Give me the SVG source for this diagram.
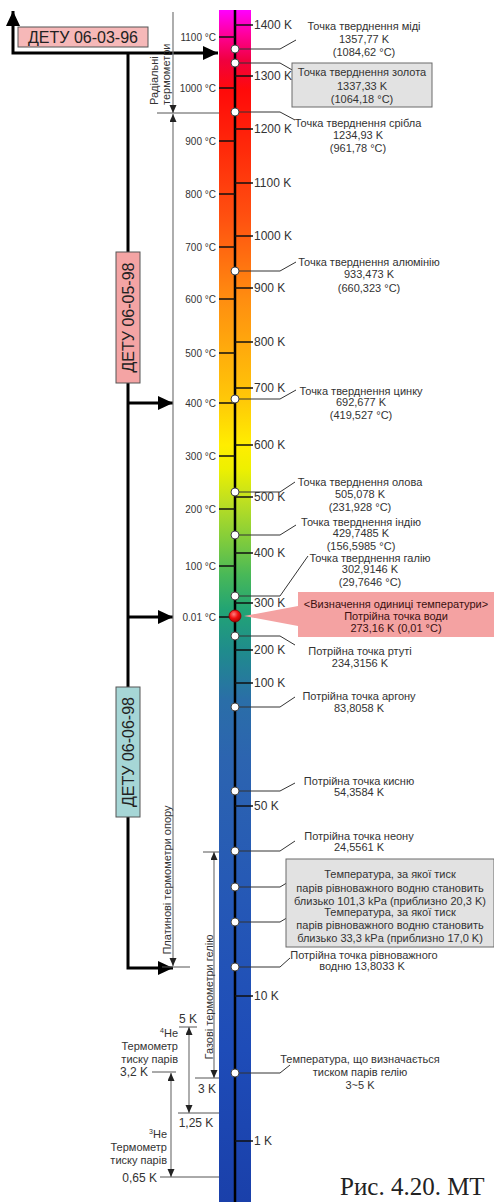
<svg xmlns="http://www.w3.org/2000/svg" width="494" height="1202" viewBox="0 0 494 1202">
<style>
text{font-family:"Liberation Sans",Arial,sans-serif;fill:#333}
.lbl{font-size:11px;text-anchor:middle}
.cl{font-size:10px;text-anchor:end}
.kl{font-size:12px}
.sm{font-size:11px;text-anchor:end}
.kv{font-size:12px}
.rt{font-size:11px}
.box{font-size:16px;fill:#222;text-anchor:middle}
.tick{stroke:#111;stroke-width:1.5}
.leader{stroke:#333;stroke-width:1;fill:none}
.pt{fill:#fff;stroke:#444;stroke-width:1}
.dim{stroke:#777;stroke-width:1.2;fill:none}
.dima{stroke:#777;stroke-width:1.2;fill:none;marker-start:url(#sa);marker-end:url(#sa)}
.dimh{stroke:#555;stroke-width:1}
.blk{stroke:#000;stroke-width:3;fill:none}
</style>
<defs>
<linearGradient id="spec" x1="0" y1="10" x2="0" y2="1202" gradientUnits="userSpaceOnUse">
<stop offset="0" stop-color="#ff00ff"/>
<stop offset="0.021" stop-color="#ff0098"/>
<stop offset="0.042" stop-color="#f00040"/>
<stop offset="0.067" stop-color="#ff0a0a"/>
<stop offset="0.117" stop-color="#ff2a0a"/>
<stop offset="0.176" stop-color="#ff5210"/>
<stop offset="0.243" stop-color="#ff8e10"/>
<stop offset="0.327" stop-color="#ffc808"/>
<stop offset="0.365" stop-color="#ffee00"/>
<stop offset="0.385" stop-color="#eef000"/>
<stop offset="0.411" stop-color="#c0e020"/>
<stop offset="0.445" stop-color="#80cc3c"/>
<stop offset="0.474" stop-color="#48b858"/>
<stop offset="0.503" stop-color="#22a474"/>
<stop offset="0.537" stop-color="#1f8c8c"/>
<stop offset="0.579" stop-color="#2a6ea8"/>
<stop offset="0.629" stop-color="#2c64b0"/>
<stop offset="0.747" stop-color="#2558b6"/>
<stop offset="0.872" stop-color="#1e4cb8"/>
<stop offset="1" stop-color="#1a40aa"/>
</linearGradient>
<radialGradient id="redball" cx="0.4" cy="0.35" r="0.7">
<stop offset="0" stop-color="#ff8080"/>
<stop offset="0.5" stop-color="#f01010"/>
<stop offset="1" stop-color="#a00000"/>
</radialGradient>
<marker id="ah" markerUnits="userSpaceOnUse" markerWidth="16" markerHeight="14" refX="15" refY="7" orient="auto-start-reverse">
<path d="M0,0 L15,7 L0,14 Z" fill="#000"/>
</marker>
<marker id="sa" markerUnits="userSpaceOnUse" markerWidth="9" markerHeight="8" refX="8" refY="3.5" orient="auto-start-reverse">
<path d="M0,0 L8,3.5 L0,7 Z" fill="#222"/>
</marker>
</defs>

<g id="scale">
<rect x="219" y="10" width="32" height="1192" fill="url(#spec)"/>
<line x1="235" y1="10" x2="235" y2="1202" stroke="#000" stroke-width="2.5"/>
<g id="celsius-ticks">
<line class="tick" x1="219" y1="37" x2="235" y2="37"/><text class="cl" x="216" y="40.5">1100 °C</text>
<line class="tick" x1="219" y1="88" x2="235" y2="88"/><text class="cl" x="216" y="91.5">1000 °C</text>
<line class="tick" x1="219" y1="141" x2="235" y2="141"/><text class="cl" x="216" y="144.5">900 °C</text>
<line class="tick" x1="219" y1="194" x2="235" y2="194"/><text class="cl" x="216" y="197.5">800 °C</text>
<line class="tick" x1="219" y1="247" x2="235" y2="247"/><text class="cl" x="216" y="250.5">700 °C</text>
<line class="tick" x1="219" y1="299" x2="235" y2="299"/><text class="cl" x="216" y="302.5">600 °C</text>
<line class="tick" x1="219" y1="353" x2="235" y2="353"/><text class="cl" x="216" y="356.5">500 °C</text>
<line class="tick" x1="219" y1="403" x2="235" y2="403"/><text class="cl" x="216" y="406.5">400 °C</text>
<line class="tick" x1="219" y1="456" x2="235" y2="456"/><text class="cl" x="216" y="459.5">300 °C</text>
<line class="tick" x1="219" y1="509" x2="235" y2="509"/><text class="cl" x="216" y="512.5">200 °C</text>
<line class="tick" x1="219" y1="566" x2="235" y2="566"/><text class="cl" x="216" y="569.5">100 °C</text>
<line class="tick" x1="219" y1="617" x2="235" y2="617"/><text class="cl" x="216" y="620.5">0.01 °C</text>
</g>
<g id="kelvin-ticks">
<line class="tick" x1="235" y1="25" x2="253" y2="25"/><text class="kl" x="254" y="29">1400 K</text>
<line class="tick" x1="235" y1="76" x2="253" y2="76"/><text class="kl" x="254" y="80">1300 K</text>
<line class="tick" x1="235" y1="129" x2="253" y2="129"/><text class="kl" x="254" y="133">1200 K</text>
<line class="tick" x1="235" y1="183" x2="253" y2="183"/><text class="kl" x="254" y="187">1100 K</text>
<line class="tick" x1="235" y1="236" x2="253" y2="236"/><text class="kl" x="254" y="240">1000 K</text>
<line class="tick" x1="235" y1="288" x2="253" y2="288"/><text class="kl" x="254" y="292">900 K</text>
<line class="tick" x1="235" y1="342" x2="253" y2="342"/><text class="kl" x="254" y="346">800 K</text>
<line class="tick" x1="235" y1="388" x2="253" y2="388"/><text class="kl" x="254" y="392">700 K</text>
<line class="tick" x1="235" y1="445" x2="253" y2="445"/><text class="kl" x="254" y="449">600 K</text>
<line class="tick" x1="235" y1="497" x2="253" y2="497"/><text class="kl" x="254" y="501">500 K</text>
<line class="tick" x1="235" y1="553" x2="253" y2="553"/><text class="kl" x="254" y="557">400 K</text>
<line class="tick" x1="235" y1="603" x2="253" y2="603"/><text class="kl" x="254" y="607">300 K</text>
<line class="tick" x1="235" y1="650" x2="253" y2="650"/><text class="kl" x="254" y="654">200 K</text>
<line class="tick" x1="235" y1="683" x2="253" y2="683"/><text class="kl" x="254" y="687">100 K</text>
<line class="tick" x1="235" y1="806" x2="253" y2="806"/><text class="kl" x="254" y="810">50 K</text>
<line class="tick" x1="235" y1="996" x2="253" y2="996"/><text class="kl" x="254" y="1000">10 K</text>
<line class="tick" x1="235" y1="1141" x2="253" y2="1141"/><text class="kl" x="254" y="1145">1 K</text>
</g>
</g>

<g id="connectors">
<path class="leader" d="M235,49 L280,49 L296,40"/>
<path class="leader" d="M235,63 L280,63 L294,71"/>
<path class="leader" d="M235,112 L280,112 L295,120"/>
<path class="leader" d="M235,271 L280,271 L296,262"/>
<path class="leader" d="M235,399 L280,399 L296,390"/>
<path class="leader" d="M235,492 L280,492 L295,482"/>
<path class="leader" d="M235,535 L280,535 L296,525"/>
<path class="leader" d="M235,596 L280,596 L308,556"/>
<path class="leader" d="M235,636 L280,636 L295,645"/>
<path class="leader" d="M235,707 L280,707 L295,697"/>
<path class="leader" d="M235,791 L280,791 L295,783"/>
<path class="leader" d="M235,851 L280,851 L295,841"/>
<path class="leader" d="M235,887 L280,887 L295,878"/>
<path class="leader" d="M235,922 L280,922 L295,913"/>
<path class="leader" d="M235,967 L280,967 L290,958"/>
<path class="leader" d="M235,1073 L280,1073 L290,1065"/>

<path class="blk" d="M13,11 L13,53 L218,53" marker-start="url(#ah)" marker-end="url(#ah)"/>
<path class="blk" d="M128,53 L128,252"/>
<path class="blk" d="M128,383 L128,687"/>
<path class="blk" d="M128,403 L173,403" marker-end="url(#ah)"/>
<path class="blk" d="M128,617 L173,617" marker-end="url(#ah)"/>
<path class="blk" d="M128,817 L128,968 L173,968" marker-end="url(#ah)"/>

<path class="dim" d="M173,12 L173,113" marker-end="url(#sa)"/>
<line class="dimh" x1="157" y1="113" x2="219" y2="113"/>
<path class="dima" d="M173,114 L173,966"/>
<line class="dimh" x1="162" y1="967" x2="190" y2="967"/>
<path class="dima" d="M214,852 L214,1078"/>
<line class="dimh" x1="203" y1="852" x2="219" y2="852"/>
<line class="dimh" x1="195" y1="1078" x2="219" y2="1078"/>
<path class="dima" d="M189,1027 L189,1113"/>
<line class="dimh" x1="179" y1="1027" x2="197" y2="1027"/>
<line class="dimh" x1="178" y1="1113" x2="219" y2="1113"/>
<path class="dima" d="M171,1073 L171,1177"/>
<line class="dimh" x1="152" y1="1072" x2="176" y2="1072"/>
<line class="dimh" x1="160" y1="1177" x2="219" y2="1177"/>
</g>

<g id="range-labels">
<text class="rt" transform="translate(158,105) rotate(-90)">Радіальні</text>
<text class="rt" transform="translate(170,105) rotate(-90)">термометри</text>
<text class="rt" text-anchor="middle" transform="translate(171,880) rotate(-90)">Платинові термометри опору</text>
<text class="rt" text-anchor="middle" transform="translate(213,997) rotate(-90)">Газові термометри гелію</text>
<text class="kv" x="188" y="1023" text-anchor="middle">5 K</text>
<text class="kv" x="207" y="1093" text-anchor="middle">3 K</text>
<text class="kv" x="196" y="1127" text-anchor="middle">1,25 K</text>
<text class="sm" x="178" y="1037"><tspan font-size="7" dy="-4">4</tspan><tspan dy="4">He</tspan></text>
<text class="sm" x="178" y="1050">Термометр</text>
<text class="sm" x="178" y="1063">тиску парів</text>
<text class="kv" x="148" y="1076" text-anchor="end">3,2 K</text>
<text class="sm" x="167" y="1138"><tspan font-size="7" dy="-4">3</tspan><tspan dy="4">He</tspan></text>
<text class="sm" x="167" y="1151">Термометр</text>
<text class="sm" x="167" y="1164">тиску парів</text>
<text class="kv" x="157" y="1182" text-anchor="end">0,65 K</text>
</g>

<g id="detu-06-03-96">
<rect x="18" y="27" width="130" height="20" fill="#f6b8b8" stroke="#555" stroke-width="1"/>
<text class="box" x="83" y="43">ДЕТУ 06-03-96</text>
</g>
<g id="detu-06-05-98">
<rect x="116" y="252" width="24" height="131" fill="#f4a4a4" stroke="#555" stroke-width="1"/>
<text class="box" transform="translate(134,317.5) rotate(-90)">ДЕТУ 06-05-98</text>
</g>
<g id="detu-06-06-98">
<rect x="116" y="687" width="24" height="130" fill="#a6d6d6" stroke="#555" stroke-width="1"/>
<text class="box" transform="translate(134,752) rotate(-90)">ДЕТУ 06-06-98</text>
</g>

<g id="copper">
<circle class="pt" cx="235" cy="49" r="4"/>
<text class="lbl" x="364" y="30">Точка тверднення міді</text>
<text class="lbl" x="364" y="43">1357,77 K</text>
<text class="lbl" x="364" y="56">(1084,62 °C)</text>
</g>
<g id="gold">
<circle class="pt" cx="235" cy="63" r="4"/>
<rect x="292" y="63" width="140" height="44" fill="#e2e2e2" stroke="#6a6a6a" stroke-width="1"/>
<text class="lbl" x="362" y="76">Точка тверднення золота</text>
<text class="lbl" x="362" y="90">1337,33 K</text>
<text class="lbl" x="362" y="103">(1064,18 °C)</text>
</g>
<g id="silver">
<circle class="pt" cx="235" cy="112" r="4"/>
<text class="lbl" x="358" y="127">Точка тверднення срібла</text>
<text class="lbl" x="358" y="139">1234,93 K</text>
<text class="lbl" x="358" y="152">(961,78 °C)</text>
</g>
<g id="aluminium">
<circle class="pt" cx="235" cy="271" r="4"/>
<text class="lbl" x="369" y="266">Точка тверднення алюмінію</text>
<text class="lbl" x="369" y="278">933,473 K</text>
<text class="lbl" x="369" y="292">(660,323 °C)</text>
</g>
<g id="zinc">
<circle class="pt" cx="235" cy="399" r="4"/>
<text class="lbl" x="361" y="395">Точка тверднення цинку</text>
<text class="lbl" x="361" y="406">692,677 K</text>
<text class="lbl" x="361" y="419">(419,527 °C)</text>
</g>
<g id="tin">
<circle class="pt" cx="235" cy="492" r="4"/>
<text class="lbl" x="360" y="486">Точка тверднення олова</text>
<text class="lbl" x="360" y="498">505,078 K</text>
<text class="lbl" x="360" y="511">(231,928 °C)</text>
</g>
<g id="indium">
<circle class="pt" cx="235" cy="535" r="4"/>
<text class="lbl" x="361" y="526">Точка тверднення індію</text>
<text class="lbl" x="361" y="537">429,7485 K</text>
<text class="lbl" x="361" y="550">(156,5985 °C)</text>
</g>
<g id="gallium">
<circle class="pt" cx="235" cy="596" r="4"/>
<text class="lbl" x="370" y="562">Точка тверднення галію</text>
<text class="lbl" x="370" y="573">302,9146 K</text>
<text class="lbl" x="370" y="586">(29,7646 °C)</text>
</g>
<g id="water">
<path d="M298,592 H494 V637 H298 V626 L244,616 L298,606 Z" fill="#f4a2a2"/>
<circle cx="235" cy="616" r="6" fill="url(#redball)" stroke="#800" stroke-width="0.8"/>
<text class="lbl" x="396" y="608" style="fill:#3a1010">&lt;Визначення одиниці температури&gt;</text>
<text class="lbl" x="396" y="620" style="fill:#3a1010">Потрійна точка води</text>
<text class="lbl" x="396" y="632" style="fill:#3a1010">273,16 K (0,01 °C)</text>
</g>
<g id="mercury">
<circle class="pt" cx="235" cy="636" r="4"/>
<text class="lbl" x="360" y="655">Потрійна точка ртуті</text>
<text class="lbl" x="360" y="667">234,3156 K</text>
</g>
<g id="argon">
<circle class="pt" cx="235" cy="707" r="4"/>
<text class="lbl" x="359" y="700">Потрійна точка аргону</text>
<text class="lbl" x="359" y="712">83,8058 K</text>
</g>
<g id="oxygen">
<circle class="pt" cx="235" cy="791" r="4"/>
<text class="lbl" x="359" y="785">Потрійна точка кисню</text>
<text class="lbl" x="359" y="796">54,3584 K</text>
</g>
<g id="neon">
<circle class="pt" cx="235" cy="851" r="4"/>
<text class="lbl" x="359" y="840">Потрійна точка неону</text>
<text class="lbl" x="359" y="851">24,5561 K</text>
</g>
<g id="hydrogen-vapour">
<circle class="pt" cx="235" cy="887" r="4"/>
<circle class="pt" cx="235" cy="922" r="4"/>
<rect x="286" y="859" width="208" height="88" fill="#e2e2e2" stroke="#6a6a6a" stroke-width="1"/>
<text class="lbl" x="390" y="878">Температура, за якої тиск</text>
<text class="lbl" x="390" y="892">парів рівноважного водню становить</text>
<text class="lbl" x="390" y="905">близько 101,3 kPa (приблизно 20,3 K)</text>
<text class="lbl" x="390" y="916">Температура, за якої тиск</text>
<text class="lbl" x="390" y="929">парів рівноважного водню становить</text>
<text class="lbl" x="390" y="942">близько 33,3 kPa (приблизно 17,0 K)</text>
</g>
<g id="hydrogen-triple">
<circle class="pt" cx="235" cy="967" r="4"/>
<text class="lbl" x="364" y="959">Потрійна точка рівноважного</text>
<text class="lbl" x="362" y="970">водню 13,8033 K</text>
</g>
<g id="helium">
<circle class="pt" cx="235" cy="1073" r="4"/>
<text class="lbl" x="360" y="1063">Температура, що визначається</text>
<text class="lbl" x="360" y="1076">тиском парів гелію</text>
<text class="lbl" x="360" y="1089">3~5 K</text>
</g>

<text x="340" y="1195" style="font-family:'Liberation Serif','Times New Roman',serif;font-size:25px;fill:#222">Рис. 4.20. МТ</text>
</svg>
